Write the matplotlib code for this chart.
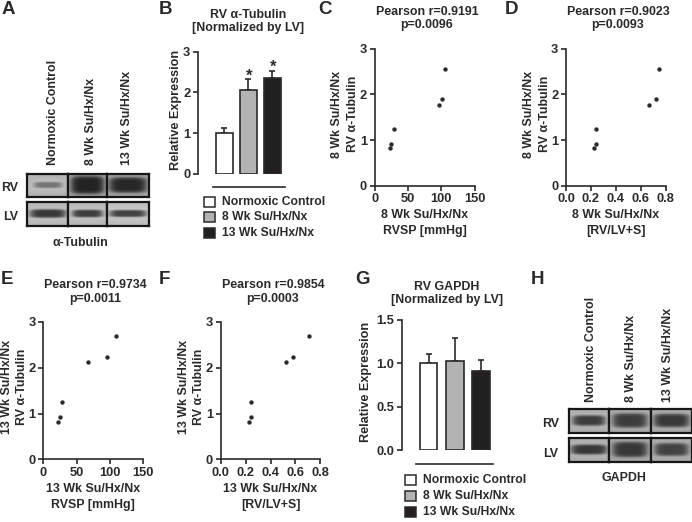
import numpy as np
import matplotlib
matplotlib.use('Agg')
import matplotlib.pyplot as plt
from matplotlib.patches import Rectangle

plt.rcParams['font.family'] = ['Liberation Sans', 'DejaVu Sans']
plt.rcParams['font.weight'] = 'bold'

W, H = 692, 522
INK = '#2b2a2b'
FS = 8.9

groups = ['Normoxic Control', '8 Wk Su/Hx/Nx', '13 Wk Su/Hx/Nx']
bar_colors = ['white', '#b3b3b3', '#231f20']

tub_mean = [1.0, 2.07, 2.35]
tub_top = [1.13, 2.32, 2.53]
gapdh_mean = [1.0, 1.02, 0.91]
gapdh_top = [1.11, 1.29, 1.04]

rv_8wk = [0.82, 0.92, 1.25, 1.77, 1.89, 2.55]
rvsp_8wk = [23, 25, 29, 96.5, 101, 105]
ratio_8wk = [0.227, 0.238, 0.24, 0.666, 0.72, 0.744]
rv_13wk = [0.82, 0.92, 1.25, 2.13, 2.23, 2.69]
rvsp_13wk = [22.6, 25, 28, 68, 96, 110]
ratio_13wk = [0.225, 0.24, 0.24, 0.522, 0.58, 0.706]

# lane: background grey, band darkness, half width, half height
blot_a_rv = [(0.74, 0.46, 0.68, 0.26), (0.70, 0.14, 0.90, 0.80), (0.68, 0.16, 0.94, 0.68)]
blot_a_lv = [(0.76, 0.22, 0.88, 0.36), (0.76, 0.24, 0.80, 0.32), (0.78, 0.26, 0.90, 0.30)]
blot_h_rv = [(0.72, 0.24, 0.84, 0.44), (0.70, 0.24, 0.86, 0.60), (0.70, 0.22, 0.90, 0.56)]
blot_h_lv = [(0.72, 0.22, 0.92, 0.42), (0.68, 0.22, 0.86, 0.64), (0.70, 0.26, 0.86, 0.54)]


def px_axes(fig, x0, y0, x1, y1):
    # x0,y0 = lower left in image pixels, x1,y1 = upper right
    return fig.add_axes([x0 / W, 1 - y0 / H, (x1 - x0) / W, (y0 - y1) / H])


def style(ax):
    for s in ['top', 'right']:
        ax.spines[s].set_visible(False)
    for s in ['left', 'bottom']:
        ax.spines[s].set_linewidth(1.2)
        ax.spines[s].set_color(INK)
    ax.tick_params(width=1.2, length=3.5, color=INK, labelcolor=INK, labelsize=9.3, pad=2)
    ax.patch.set_alpha(0)


def scatter_panel(fig, box, x, y, xlim, xticks, xfmt):
    ax = px_axes(fig, *box)
    ax.scatter(x, y, s=10, color=INK, clip_on=False, zorder=3, linewidths=0)
    ax.set_xlim(*xlim)
    ax.set_ylim(0, 3)
    ax.set_xticks(xticks)
    ax.set_xticklabels([xfmt % t for t in xticks])
    ax.set_yticks([0, 1, 2, 3])
    style(ax)
    return ax


def bar_panel(fig, box, means, tops, ylim, yticks, yfmt, xlim, width):
    ax = px_axes(fig, *box)
    xs = np.arange(len(means))
    ax.bar(xs, means, width=width, color=bar_colors, edgecolor=INK, linewidth=1.2, zorder=2)
    lower = [0, 0, 0]
    upper = [t - m for t, m in zip(tops, means)]
    ax.errorbar(xs, means, yerr=[lower, upper], fmt='none', ecolor=INK, elinewidth=1.2,
                capsize=2.5, capthick=1.2, zorder=1)
    ax.set_xlim(*xlim)
    ax.set_ylim(*ylim)
    ax.set_xticks([])
    ax.set_yticks(yticks)
    ax.set_yticklabels([yfmt % t for t in yticks])
    style(ax)
    ax.spines['bottom'].set_visible(False)
    return ax


def lane_image(lanes, nx=120, ny=30):
    parts = []
    yy, xx = np.mgrid[-1:1:ny * 1j, -1:1:nx * 1j]
    for bg, dark, hw, hh in lanes:
        d = np.abs(xx / hw) ** 4 + np.abs(yy / hh) ** 4
        band = np.exp(-d ** 1.5)
        img = bg + (dark - bg) * band
        img = img - 0.06 * np.abs(yy) ** 2
        parts.append(img)
    return parts


def blot_strip(fig, x0, x1, y0, y1, dividers, lanes):
    edges = [x0] + dividers + [x1]
    parts = lane_image(lanes)
    for i, img in enumerate(parts):
        ax = px_axes(fig, edges[i], y1, edges[i + 1], y0)
        ax.imshow(img, cmap='gray', vmin=0, vmax=1, aspect='auto', interpolation='bilinear')
        ax.set_xticks([])
        ax.set_yticks([])
        for s in ax.spines.values():
            s.set_linewidth(1.6)
            s.set_color('#161616')


fig = plt.figure(figsize=(W / 100, H / 100), dpi=100, facecolor='white')

# panels B and G
bar_panel(fig, (198, 173.7, 290, 51.7), tub_mean, tub_top, (0, 3), [0, 1, 2, 3], '%d', (-1.10, 2.73), 0.7)
bar_panel(fig, (401.7, 450.3, 498, 319.7), gapdh_mean, gapdh_top, (0, 1.5), [0, 0.5, 1.0, 1.5], '%.1f', (-1.04, 2.66), 0.67)

# scatter panels
scatter_panel(fig, (374.7, 185.7, 474.7, 48.7), rvsp_8wk, rv_8wk, (0, 150), [0, 50, 100, 150], '%d')
scatter_panel(fig, (566, 185.7, 665.7, 48.7), ratio_8wk, rv_8wk, (0, 0.8), [0, 0.2, 0.4, 0.6, 0.8], '%.1f')
scatter_panel(fig, (43.3, 459.3, 143, 322), rvsp_13wk, rv_13wk, (0, 150), [0, 50, 100, 150], '%d')
scatter_panel(fig, (220.7, 459.3, 320.3, 322), ratio_13wk, rv_13wk, (0, 0.8), [0, 0.2, 0.4, 0.6, 0.8], '%.1f')

# blots
blot_strip(fig, 26.7, 149, 174, 197.3, [68.3, 107.3], blot_a_rv)
blot_strip(fig, 26.7, 149, 201.5, 226, [68.3, 107.3], blot_a_lv)
blot_strip(fig, 569.3, 691.5, 408.7, 433, [609.3, 650.7], blot_h_rv)
blot_strip(fig, 569.3, 691.5, 437.7, 462, [609.3, 650.7], blot_h_lv)

# overlay for text and legends, in image pixels
ov = fig.add_axes([0, 0, 1, 1], facecolor='none')
ov.set_xlim(0, W)
ov.set_ylim(H, 0)
ov.axis('off')


def t(x, y, s, size=FS, ha='center', va='center', rot=0):
    ov.text(x, y, s, fontsize=size, ha=ha, va=va, rotation=rot, color=INK, linespacing=1.22)


for letter, x, y in [('A', 8, 10), ('B', 166, 9), ('C', 325, 9), ('D', 511, 9),
                     ('E', 7, 279), ('F', 164, 279), ('G', 362, 280), ('H', 537, 279)]:
    t(x, y, letter, size=13.5)

t(248, 21.5, 'RV α-Tubulin\n[Normalized by LV]')
t(427, 18.5, 'Pearson r=0.9191\np=0.0096')
t(618, 18.5, 'Pearson r=0.9023\np=0.0093')
t(95.5, 292, 'Pearson r=0.9734\np=0.0011')
t(273, 292, 'Pearson r=0.9854\np=0.0003')
t(447, 293.5, 'RV GAPDH\n[Normalized by LV]')

t(175.7, 110, 'Relative Expression', size=9.1, rot=90)
t(366, 382, 'Relative Expression', size=9.1, rot=90)

# scatter axis titles
for xc, yc, xl1, xl2, yl1, x1, x2 in [
        (424.7, 222.5, '8 Wk Su/Hx/Nx', 'RVSP [mmHg]', '8 Wk Su/Hx/Nx', 337, 353),
        (616, 222.5, '8 Wk Su/Hx/Nx', '[RV/LV+S]', '8 Wk Su/Hx/Nx', 529, 545.5),
        (93, 496.7, '13 Wk Su/Hx/Nx', 'RVSP [mmHg]', '13 Wk Su/Hx/Nx', 7, 22),
        (270.5, 496.7, '13 Wk Su/Hx/Nx', '[RV/LV+S]', '13 Wk Su/Hx/Nx', 184, 199)]:
    t(xc, yc - 8, xl1)
    t(xc, yc + 8.5, xl2)
    ym = 114 if yc < 300 else 387
    t(x1, ym, yl1, rot=90)
    t(x2, ym, 'RV α-Tubulin', rot=90)

# stars
t(249, 76, '*', size=12)
t(273, 67.5, '*', size=12)

# legends
ov.plot([212.7, 285], [187, 187], color=INK, lw=1.2)
ov.plot([416, 493], [464.3, 464.3], color=INK, lw=1.2)
for ys, sx, tx in [([201.7, 217.3, 233], 209.5, 221.7), ([480.3, 496.3, 512.3], 410, 422.7)]:
    for yc, c, g in zip(ys, bar_colors, groups):
        ov.add_patch(Rectangle((sx - 5.5, yc - 5), 11, 10, facecolor=c, edgecolor=INK, lw=1.1))
        t(tx, yc, g, ha='left', size=8.7)

# blot labels
t(10, 187.7, 'RV')
t(10.5, 216.7, 'LV')
t(80, 243, 'α-Tubulin')
t(551, 423.7, 'RV')
t(551, 453.7, 'LV')
t(624, 477.7, 'GAPDH')

for x, y, s in [(52.7, 165, groups[0]), (91, 165, groups[1]), (127, 165, groups[2])]:
    ov.text(x, y, s, fontsize=8.9, rotation=90, ha='center', va='bottom', color=INK)
for x, y, s in [(590.7, 402, groups[0]), (630.7, 402, groups[1]), (668, 402, groups[2])]:
    ov.text(x, y, s, fontsize=8.9, rotation=90, ha='center', va='bottom', color=INK)

fig.savefig('out.png', dpi=100)
